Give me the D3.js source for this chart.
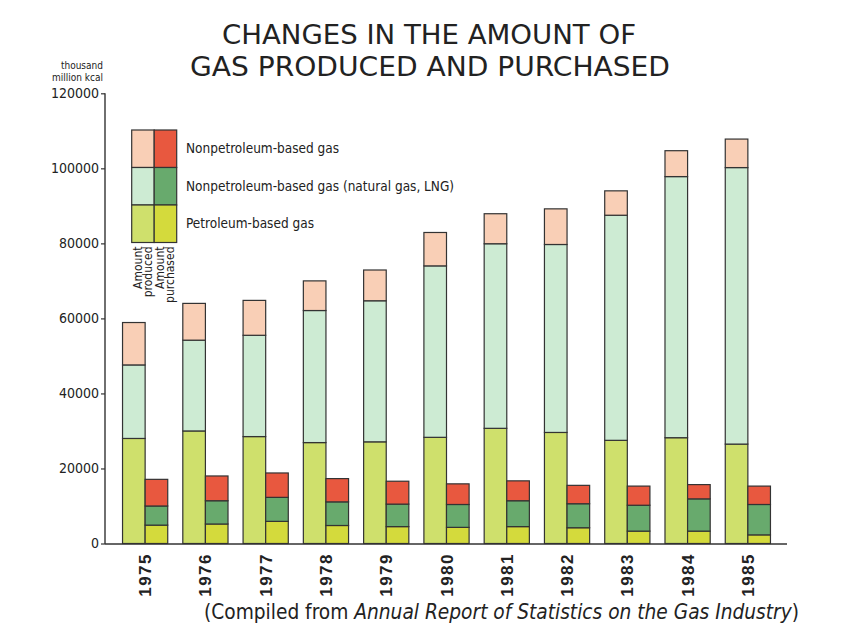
<!DOCTYPE html>
<html>
<head>
<meta charset="utf-8">
<script src="https://cdn.jsdelivr.net/npm/d3@7"></script>
<style>
  html, body { margin: 0; padding: 0; background: #fff; }
  svg { display: block; }
  text { font-family: "Liberation Sans Narrow", "DejaVu Sans Condensed", "Arial Narrow", sans-serif; fill: #222; }
</style>
</head>
<body>
<svg id="chart" width="868" height="628"></svg>
<script>
// Years on the x axis
const years = ["1975", "1976", "1977", "1978", "1979", "1980", "1981", "1982", "1983", "1984", "1985"];

// Amount produced (thousand million kcal), by gas type
const producedPetroleum    = [28000, 30000, 28500, 26900, 27100, 28300, 30700, 29600, 27500, 28200, 26500];
const producedNaturalGas   = [19600, 24200, 27000, 35200, 37600, 45700, 49200, 50100, 60000, 69600, 73700];
const producedNonpetroleum = [11300,  9800,  9300,  7900,  8200,  8900,  8000,  9500,  6500,  6900,  7600];

// Amount purchased (thousand million kcal), by gas type
const purchasedPetroleum    = [4900, 5200, 5900, 4800, 4500, 4300, 4500, 4200, 3300, 3300, 2300];
const purchasedNaturalGas   = [5100, 6200, 6400, 6300, 6000, 6100, 6900, 6400, 6900, 8600, 8100];
const purchasedNonpetroleum = [7100, 6600, 6500, 6200, 6100, 5500, 5300, 4900, 5100, 3800, 4900];

// Y axis ticks
const yTicks = [0, 20000, 40000, 60000, 80000, 100000, 120000];

// Legend rows, top to bottom
const legendLabels = ["Nonpetroleum-based gas", "Nonpetroleum-based gas (natural gas, LNG)", "Petroleum-based gas"];

const keys = ["petroleum", "natural", "nonpetroleum"];
const colors = {
  produced:  { petroleum: "#cfe06c", natural: "#cdebd3", nonpetroleum: "#f9cfb6" },
  purchased: { petroleum: "#d4da3c", natural: "#68aa6d", nonpetroleum: "#e8583f" }
};

const producedRows = years.map((y, i) => ({ year: y, petroleum: producedPetroleum[i], natural: producedNaturalGas[i], nonpetroleum: producedNonpetroleum[i] }));
const purchasedRows = years.map((y, i) => ({ year: y, petroleum: purchasedPetroleum[i], natural: purchasedNaturalGas[i], nonpetroleum: purchasedNonpetroleum[i] }));

const svg = d3.select("#chart");

const y = d3.scaleLinear().domain([0, 120000]).range([543.5, 93.3]);
const x = d3.scaleBand().domain(years).range([115, 778]).paddingInner(0.25).paddingOuter(0.125);
const sub = d3.scaleBand().domain(["produced", "purchased"]).range([0, x.bandwidth()]);

const stack = d3.stack().keys(keys);
const groups = [
  { kind: "produced", series: stack(producedRows) },
  { kind: "purchased", series: stack(purchasedRows) }
];

const plot = svg.append("g");
groups.forEach(g => {
  g.series.forEach(s => {
    plot.append("g")
      .selectAll("rect")
      .data(s)
      .join("rect")
      .attr("x", d => x(d.data.year) + sub(g.kind))
      .attr("width", sub.bandwidth())
      .attr("y", d => y(d[1]))
      .attr("height", d => y(d[0]) - y(d[1]))
      .attr("fill", colors[g.kind][s.key])
      .attr("stroke", "#333")
      .attr("stroke-width", 1.2);
  });
});

// Y axis
const yAxis = d3.axisLeft(y).tickValues(yTicks).tickFormat(d3.format("d")).tickSize(4).tickPadding(2);
const ya = svg.append("g").attr("transform", "translate(105,0)").call(yAxis);
ya.select(".domain").attr("stroke", "#333").attr("stroke-width", 1.4).attr("d", "M0,93.3V544");
ya.selectAll(".tick line").attr("stroke", "#333").attr("stroke-width", 1.2);
ya.selectAll(".tick text").attr("font-size", 14).attr("fill", "#444")
  .style("font-family", "'Liberation Sans Narrow', 'DejaVu Sans Condensed', sans-serif");

// X baseline
svg.append("line").attr("x1", 105).attr("x2", 787).attr("y1", 544).attr("y2", 544)
  .attr("stroke", "#333").attr("stroke-width", 1.4);

// Year labels, rotated
svg.append("g").selectAll("text")
  .data(years)
  .join("text")
  .attr("transform", d => `translate(${x(d) + x.bandwidth() / 2 + 6},553) rotate(-90)`)
  .attr("text-anchor", "end")
  .attr("font-size", 17)
  .attr("font-weight", "bold")
  .style("font-family", "'Liberation Sans', Arial, sans-serif")
  .style("letter-spacing", "1.5px")
  .text(d => d);

// Unit label
svg.append("text").attr("x", 103).attr("y", 69).attr("text-anchor", "end").attr("font-size", 10).text("thousand");
svg.append("text").attr("x", 103).attr("y", 81).attr("text-anchor", "end").attr("font-size", 10).text("million kcal");

// Title, two lines stretched to the heading width
svg.append("text").attr("x", 222).attr("y", 44).attr("font-size", 27)
  .attr("textLength", 414).attr("lengthAdjust", "spacingAndGlyphs")
  .text("CHANGES IN THE AMOUNT OF");
svg.append("text").attr("x", 190).attr("y", 76).attr("font-size", 27)
  .attr("textLength", 480).attr("lengthAdjust", "spacingAndGlyphs")
  .text("GAS PRODUCED AND PURCHASED");

// Legend swatches
const legend = svg.append("g");
const lx = 131.7, ly = 130, cw = 22.5, ch = 37.5;
const legendKeys = ["nonpetroleum", "natural", "petroleum"];
legendKeys.forEach((k, r) => {
  ["produced", "purchased"].forEach((kind, c) => {
    legend.append("rect")
      .attr("x", lx + c * cw).attr("y", ly + r * ch)
      .attr("width", cw).attr("height", ch)
      .attr("fill", colors[kind][k])
      .attr("stroke", "#333").attr("stroke-width", 1.2);
  });
  legend.append("text")
    .attr("x", 186).attr("y", ly + r * ch + ch / 2 + 4.5)
    .attr("font-size", 13.5)
    .text(legendLabels[r]);
});

// Column captions under the legend swatches
const captions = [["Amount", "produced"], ["Amount", "purchased"]];
captions.forEach((lines, c) => {
  const cx = lx + c * cw;
  lines.forEach((t, j) => {
    legend.append("text")
      .attr("transform", `translate(${cx + 10 + j * 10},${ly + 3 * ch + 4}) rotate(-90)`)
      .attr("text-anchor", "end")
      .attr("font-size", 12)
      .text(t);
  });
});

// Source note
const note = svg.append("text").attr("x", 204).attr("y", 619).attr("font-size", 20.7);
note.append("tspan").text("(Compiled from ");
note.append("tspan").attr("font-style", "italic").text("Annual Report of Statistics on the Gas Industry");
note.append("tspan").text(")");
</script>
</body>
</html>
